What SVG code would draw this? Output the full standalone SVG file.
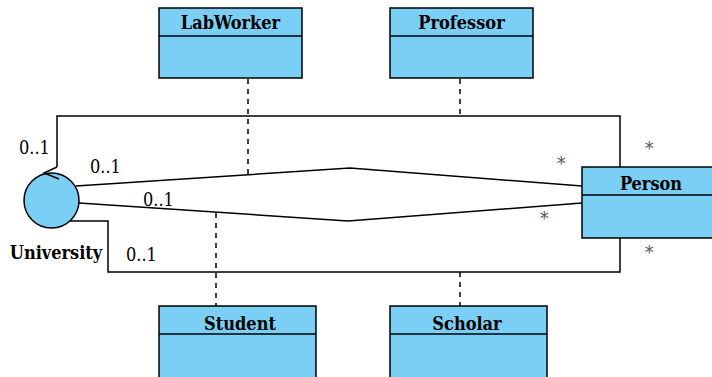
<svg xmlns="http://www.w3.org/2000/svg" width="712" height="377" viewBox="0 0 712 377">
<style>
.box{fill:#7bcff5;stroke:#000;stroke-width:1.5}
.ln{fill:none;stroke:#000;stroke-width:1.5}
.dash{fill:none;stroke:#000;stroke-width:1.5;stroke-dasharray:5,5}
text{font-family:"DejaVu Serif Condensed","DejaVu Serif",serif;font-stretch:condensed}
.name{font-weight:bold;font-size:18px;text-anchor:middle;fill:#000}
.lbl{font-size:18px}
.star{font-size:19px;fill:#555}
</style>
<rect width="712" height="377" fill="#fff"/>
<g id="University">
<circle class="box" cx="51.5" cy="200.5" r="27.5"/>
<text class="name" x="56" y="259" font-size="17">University</text>
</g>
<g id="connectors">
<polyline class="ln" points="57,167 57,116 620,116 620,167"/>
<polyline class="ln" points="57,167 44,173 59,179"/>
<polyline class="ln" points="70,221 108,221 108,272 620,272 620,238"/>
<polyline class="ln" points="76,186 350,168 582,186"/>
<polyline class="ln" points="79,203 348,221 582,203"/>
<line class="dash" x1="248" y1="79" x2="248" y2="174"/>
<line class="dash" x1="460" y1="79" x2="460" y2="116"/>
<line class="dash" x1="216" y1="213" x2="216" y2="306"/>
<line class="dash" x1="460" y1="272" x2="460" y2="306"/>
<text class="lbl" x="19" y="154">0..1</text>
<text class="lbl" x="90" y="173">0..1</text>
<text class="lbl" x="143" y="206">0..1</text>
<text class="lbl" x="126" y="261">0..1</text>
<text class="star" x="557" y="170">*</text>
<text class="star" x="645" y="155">*</text>
<text class="star" x="540" y="225">*</text>
<text class="star" x="645" y="259">*</text>
</g>
<g id="LabWorker">
<rect class="box" x="159" y="8" width="143" height="70"/>
<line class="ln" x1="159" y1="36" x2="302" y2="36"/>
<text class="name" x="230.5" y="29">LabWorker</text>
</g>
<g id="Professor">
<rect class="box" x="390" y="8" width="143" height="70"/>
<line class="ln" x1="390" y1="36" x2="533" y2="36"/>
<text class="name" x="461.5" y="29">Professor</text>
</g>
<g id="Person">
<rect class="box" x="582" y="167" width="140" height="71"/>
<line class="ln" x1="582" y1="195" x2="722" y2="195"/>
<text class="name" x="651" y="190">Person</text>
</g>
<g id="Student">
<rect class="box" x="159" y="306" width="157" height="80"/>
<line class="ln" x1="159" y1="334" x2="316" y2="334"/>
<text class="name" x="240" y="330">Student</text>
</g>
<g id="Scholar">
<rect class="box" x="390" y="306" width="157" height="80"/>
<line class="ln" x1="390" y1="334" x2="547" y2="334"/>
<text class="name" x="467" y="330">Scholar</text>
</g>
</svg>
